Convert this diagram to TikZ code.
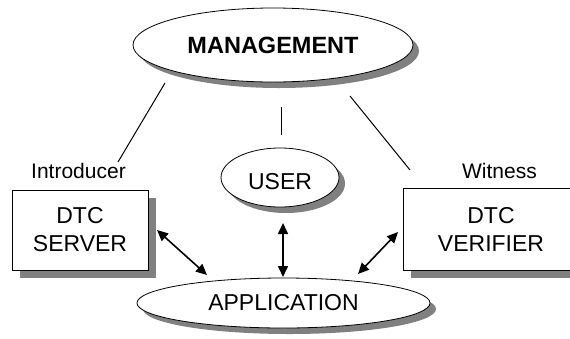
\documentclass[tikz,border=0pt]{standalone}
\usepackage{fontspec}
\setmainfont{Liberation Sans}
\usetikzlibrary{shapes.geometric,arrows.meta}
\definecolor{shadowgrey}{RGB}{128,128,128}

\begin{document}
\begin{tikzpicture}[x=1pt,y=-1pt,
  oval/.style={ellipse, draw, line width=0.8pt, fill=white, inner sep=0pt},
  panel/.style={rectangle, draw, line width=0.8pt, fill=white, inner sep=0pt, align=center},
  big/.style={font=\fontsize{23}{28}\selectfont},
  small/.style={font=\fontsize{21}{25}\selectfont},
  link/.style={line width=1pt},
  dual/.style={line width=1.6pt, {Triangle[length=11pt,width=10pt]}-{Triangle[length=11pt,width=10pt]}}
]
\useasboundingbox (0,0) rectangle (570,338);
\fill[white] (0,0) rectangle (570,338);

% drop shadows, drawn first so the shapes sit on top
\fill[shadowgrey] (279,51) ellipse [x radius=140, y radius=37];
\fill[shadowgrey] (286,183.5) ellipse [x radius=59, y radius=29.5];
\fill[shadowgrey] (289.5,309) ellipse [x radius=146.5, y radius=25];
\fill[shadowgrey] (20,198) rectangle (156,278);
\fill[shadowgrey] (411,196) rectangle (570,278);

% ovals
\node[oval, minimum width=280pt, minimum height=74pt, font=\fontsize{23.5}{28}\selectfont\bfseries] (mgmt) at (273,45) {MANAGEMENT};
\node[oval, big, minimum width=118pt, minimum height=59pt, text height=25pt] (user) at (280,177.5) {USER};
\node[oval, big, minimum width=293pt, minimum height=50pt] (app) at (283.5,303) {APPLICATION};

% boxes (the verifier box runs past the right edge)
\node[panel, big, minimum width=136pt, minimum height=80pt] (server) at (80,230) {DTC\\SERVER};
\node[panel, big, minimum width=176pt, minimum height=82pt] (verifier) at (491,229) {DTC\\VERIFIER};

% role labels
\node[small, anchor=base, inner sep=0pt] (intro) at (78.5,178) {Introducer};
\node[small, anchor=base, inner sep=0pt] (witness) at (499.5,178) {Witness};

% management links (free ends)
\coordinate (mL1) at (165,83);  \coordinate (mL2) at (118,162);
\coordinate (mC1) at (281,107); \coordinate (mC2) at (281,135);
\coordinate (mR1) at (350,96);  \coordinate (mR2) at (410,170);
\draw[link] (mL1) -- (mL2);
\draw[link] (mC1) -- (mC2);
\draw[link] (mR1) -- (mR2);

% two-way data arrows
\coordinate (aL1) at (157,230); \coordinate (aL2) at (207,275);
\coordinate (aC1) at (283,223); \coordinate (aC2) at (283,277);
\coordinate (aR1) at (398,232); \coordinate (aR2) at (358,274);
\draw[dual] (aL1) -- (aL2);
\draw[dual] (aC1) -- (aC2);
\draw[dual] (aR1) -- (aR2);
\end{tikzpicture}
\end{document}
